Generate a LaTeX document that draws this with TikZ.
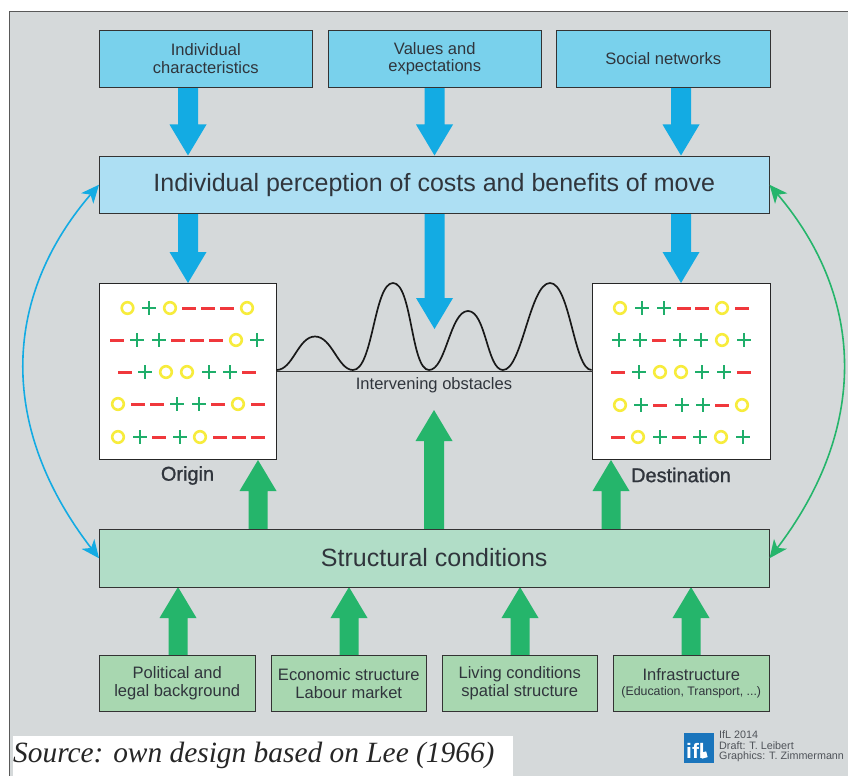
\documentclass[tikz,border=0pt]{standalone}
\usepackage{fontspec}
\setmainfont{Liberation Sans}
\newfontfamily\srcfont{Liberation Serif}
\newfontfamily\medfont[FakeBold=1.2]{Liberation Sans}
\usetikzlibrary{arrows.meta}
\definecolor{bgc}{HTML}{D5D9DA}
\definecolor{topbox}{HTML}{79D1EC}
\definecolor{percbox}{HTML}{ADDFF3}
\definecolor{bluea}{HTML}{13ABE3}
\definecolor{greena}{HTML}{25B56B}
\definecolor{condbox}{HTML}{B1DDC7}
\definecolor{botbox}{HTML}{A8D7B0}
\definecolor{txt}{HTML}{30353C}
\definecolor{plusc}{HTML}{1FAE6A}
\definecolor{minusc}{HTML}{F0383C}
\definecolor{oc}{HTML}{F7EC3C}
\definecolor{logoc}{HTML}{1A75BC}
% pixel coordinates: x right, y down
\tikzset{x=0.0352778cm,y=-0.0352778cm,
 boxbase/.style={draw=black!80,line width=0.8pt,inner sep=0pt,align=center,text=txt,anchor=north west,outer sep=0pt},
 topstyle/.style={boxbase,fill=topbox,minimum width=213.5bp,minimum height=57.5bp,font=\fontsize{16.6}{18}\selectfont},
 botstyle/.style={boxbase,fill=botbox,minimum width=155.5bp,minimum height=56.5bp,font=\fontsize{16.6}{18}\selectfont},
 widebox/.style={boxbase,minimum width=670.5bp,minimum height=57.5bp,font=\fontsize{25.1}{27}\selectfont},
 field/.style={draw=black!85,line width=0.8pt,fill=white,minimum width=177.5bp,minimum height=176.5bp,anchor=north west,inner sep=0pt,outer sep=0pt},
 curvearrow/.style={line width=1.6pt,{Stealth[length=18bp,width=16bp,inset=5bp]}-{Stealth[length=18bp,width=16bp,inset=5bp]}}
}
\newcommand{\bluearrow}[3]{% x, ytop, ytip
 \fill[bluea] (#1-10,#2) -- (#1+10,#2) -- (#1+10,#3-31) -- (#1+18.5,#3-31) -- (#1,#3) -- (#1-18.5,#3-31) -- (#1-10,#3-31) -- cycle;}
\newcommand{\greenarrow}[4]{% x, ybottom, ytip, shaft half-width
 \fill[greena] (#1-#4,#2) -- (#1+#4,#2) -- (#1+#4,#3+31) -- (#1+18.5,#3+31) -- (#1,#3) -- (#1-18.5,#3+31) -- (#1-#4,#3+31) -- cycle;}
\newcommand{\Pl}[2]{\fill[plusc] (#1-6.8,#2-1.35) rectangle (#1+6.8,#2+1.35); \fill[plusc] (#1-1.35,#2-6.8) rectangle (#1+1.35,#2+6.8);}
\newcommand{\Mi}[2]{\fill[minusc] (#1-6.7,#2-1.5) rectangle (#1+6.7,#2+1.5);}
\newcommand{\Oo}[2]{\draw[oc,line width=2.6bp] (#1,#2) ellipse (5.8 and 5.8);}
\begin{document}
\begin{tikzpicture}
\useasboundingbox (0,0) rectangle (848,776);
\fill[white] (0,0) rectangle (848,776);
\draw[fill=bgc,draw=black!65,line width=1pt] (9,12) rectangle (860,790);
\clip (0,0) rectangle (848,776);

% arrows (behind boxes)
\bluearrow{188}{87}{155.5}
\bluearrow{434.5}{87}{155.5}
\bluearrow{681}{87}{155.5}
\bluearrow{188}{212}{283}
\bluearrow{434.5}{212}{329}
\bluearrow{681}{212}{283}
\greenarrow{258}{530}{460}{9.5}
\greenarrow{434}{530}{410}{10}
\greenarrow{611}{530}{460}{9.5}
\greenarrow{178}{655}{587}{9.5}
\greenarrow{349}{655}{587}{9.5}
\greenarrow{520}{655}{587}{9.5}
\greenarrow{691}{655}{587}{9.5}

% top boxes
\node[topstyle] (t1) at (99,30) {Individual\\characteristics};
\node[topstyle] (t2) at (328,30) {Values and\\expectations};
\node[topstyle] (t3) at (556.5,30) {Social networks};
\node[widebox,fill=percbox] (perc) at (99,156) {\raisebox{-1bp}{Individual perception of costs and benefits of move}};

% fields
\node[field] (orig) at (99,283) {};
\node[field] (dest) at (592.5,283) {};

% obstacles
\draw[black!80,line width=0.8pt] (orig.east |- 0,371) -- (dest.west |- 0,371);
\draw[black!90,line width=1.7pt,line join=round]
 (276.5,370) .. controls (293,370) and (298,336.5) .. (315,336.5)
 .. controls (332,336.5) and (338,370) .. (353,370)
 .. controls (373,370) and (374,283) .. (393,283)
 .. controls (412,283) and (411,370) .. (429,370)
 .. controls (446,370) and (450,311) .. (468,311)
 .. controls (486,311) and (487,370) .. (503,370)
 .. controls (522,370) and (530,283) .. (550,283)
 .. controls (570,283) and (574,370) .. (591.5,370);
\node[text=txt,font=\fontsize{16.6}{18}\selectfont] (iv) at (434,385.5) {Intervening obstacles};

\node[font=\medfont\fontsize{20}{22}\selectfont,text=txt] (olab) at (187.5,475.5) {Origin};
\node[font=\medfont\fontsize{20}{22}\selectfont,text=txt] (dlab) at (681,475) {Destination};

% bottom boxes
\node[widebox,fill=condbox] (cond) at (99,529.5) {\raisebox{1bp}{Structural conditions}};
\node[botstyle] (b1) at (99.5,655) {Political and\\legal background};
\node[botstyle] (b2) at (271,655) {Economic structure\\Labour market};
\node[botstyle] (b3) at (442,655) {Living conditions\\spatial structure};
\node[botstyle] (b4) at (613.5,655) {Infrastructure\\[-3pt]{\fontsize{12.4}{14}\selectfont (Education, Transport, ...)}};

% side arrows
\draw[curvearrow,bluea] (perc.west) .. controls (0,300) and (0,430) .. (cond.west);
\draw[curvearrow,greena] (perc.east) .. controls (867,300) and (867,430) .. (cond.east);

% origin symbols
\Oo{127.5}{308}\Pl{149}{308}\Oo{170}{308}\Mi{189}{308}\Mi{208}{308}\Mi{227}{308}\Oo{247}{308}
\Mi{117}{340}\Pl{137}{340}\Pl{159}{340}\Mi{178}{340}\Mi{197}{340}\Mi{216}{340}\Oo{236}{340}\Pl{257}{340}
\Mi{125}{372}\Pl{145}{372}\Oo{166}{372}\Oo{187}{372}\Pl{209}{372}\Pl{230}{372}\Mi{249}{372}
\Oo{118}{404}\Mi{138}{404}\Mi{157}{404}\Pl{177}{404}\Pl{199}{404}\Mi{218}{404}\Oo{238}{404}\Mi{258}{404}
\Oo{118}{437}\Pl{140}{437}\Mi{159}{437}\Pl{180}{437}\Oo{200}{437}\Mi{220}{437}\Mi{239}{437}\Mi{258}{437}

% destination symbols
\Oo{620}{308}\Pl{642}{308}\Pl{664}{308}\Mi{684}{308}\Mi{702}{308}\Oo{722}{308}\Mi{742}{308}
\Pl{619}{340}\Pl{640}{340}\Mi{659}{340}\Pl{680}{340}\Pl{701}{340}\Oo{722}{340}\Pl{744}{340}
\Mi{618}{372}\Pl{639}{372}\Oo{660}{372}\Oo{681}{372}\Pl{702}{372}\Pl{724}{372}\Mi{744}{372}
\Oo{620}{405}\Pl{641}{405}\Mi{660}{405}\Pl{682}{405}\Pl{703}{405}\Mi{722}{405}\Oo{742}{405}
\Mi{618}{437}\Oo{638}{437}\Pl{660}{437}\Mi{679}{437}\Pl{700}{437}\Oo{721}{437}\Pl{743}{437}

% source
\fill[white] (13,736) rectangle (513,776);
\node[anchor=west,inner sep=0pt,font=\srcfont\itshape\fontsize{29.5}{31}\selectfont,text=black!85] (src) at (13,755) {Source: own design based on Lee (1966)};

% logo
\fill[logoc] (684,732.5) rectangle (713.5,762.5);
\node[inner sep=0pt,text=white,anchor=south west,font=\bfseries\fontsize{21}{22}\selectfont] (logo) at (686,759) {ifl};
\fill[white,rotate around={15:(704,755)}] (701,752) rectangle (707,758);
\node[anchor=north west,inner sep=0pt,align=left,text=txt!85,font=\fontsize{10.8}{10.5}\selectfont] (cred) at (719,731) {IfL 2014\\Draft: T. Leibert\\Graphics: T. Zimmermann};
\end{tikzpicture}
\end{document}
